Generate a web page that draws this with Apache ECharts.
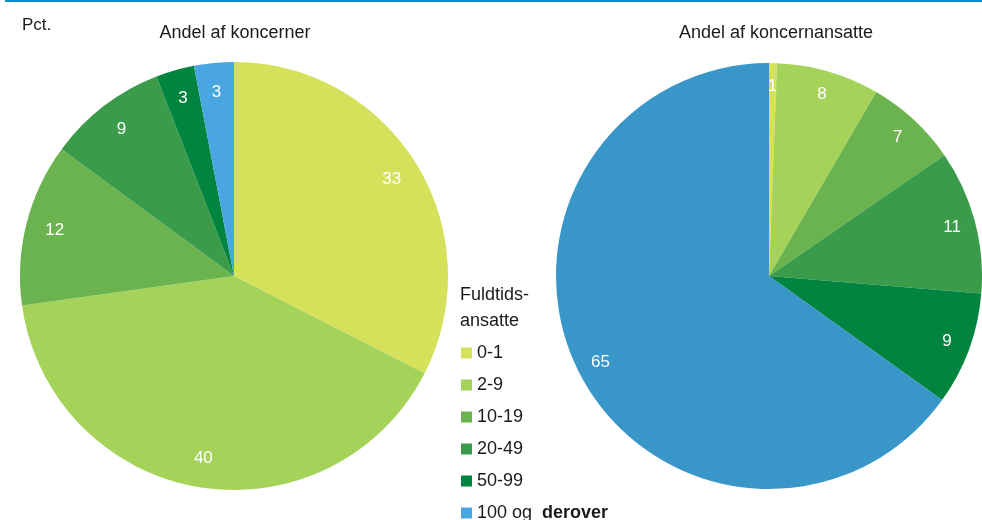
<!DOCTYPE html>
<html>
<head>
<meta charset="utf-8">
<script src="https://cdn.jsdelivr.net/npm/echarts@6/dist/echarts.min.js"></script>
<style>
  html, body { margin: 0; padding: 0; background: #fff; }
  #chart { width: 982px; height: 520px; }
</style>
</head>
<body>
<div id="chart"></div>
<script>
// employee size groups (legend)
const groups = ["0-1", "2-9", "10-19", "20-49", "50-99", "100 og derover"];
const groupColors = ["#d5e15b", "#a5d35a", "#6ab34e", "#3a9b4a", "#00843f", "#4aa6e0"];
// share of groups, pct.
const shareGroups = [32.5, 40.3, 12.3, 9.0, 2.9, 3.0];
// share of group employees, pct.
const shareEmployees = [0.6, 7.8, 7.0, 10.9, 8.6, 65.1];
const rightBlue = "#3996c9";

const FONT = "'Liberation Sans Narrow', 'Arial Narrow', 'Liberation Sans', sans-serif";

const chart = echarts.init(document.getElementById("chart"));

function pieData(values, blue) {
  return groups.map((g, i) => ({
    name: g,
    value: values[i],
    itemStyle: { color: (i === 5 && blue) ? blue : groupColors[i] }
  }));
}

function basePie(center, radius, values, blue) {
  return {
    type: "pie",
    center: center,
    radius: [0, radius],
    startAngle: 90,
    clockwise: true,
    silent: true,
    animation: false,
    label: { show: false },
    labelLine: { show: false },
    data: pieData(values, blue)
  };
}

// transparent ring used only to place labels near the rim
function labelRing(center, r0, r1, values) {
  return {
    type: "pie",
    center: center,
    radius: [r0, r1],
    startAngle: 90,
    silent: true,
    animation: false,
    itemStyle: { color: "rgba(0,0,0,0)" },
    emphasis: { disabled: true },
    label: {
      show: true,
      position: "inside",
      color: "#fff",
      fontFamily: FONT,
      fontSize: 17,
      formatter: p => Math.round(p.value)
    },
    labelLine: { show: false },
    data: groups.map((g, i) => ({ name: g, value: values[i] }))
  };
}

chart.setOption({
  color: groupColors,
  graphic: [
    { type: "rect", shape: { x: 5, y: 0, width: 977, height: 2 }, style: { fill: "#0a8fd0" } },
    { type: "text", left: 22, top: 17, style: { text: "Pct.", font: "17px " + FONT, fill: "#1a1a1a" } },
    { type: "text", left: 460, top: 282, style: { text: "Fuldtids-\nansatte", font: "18px " + FONT, fill: "#1a1a1a", lineHeight: 26 } }
  ],
  title: [
    { text: "Andel af koncerner", left: 230, top: 19, textAlign: "center",
      textStyle: { fontFamily: FONT, fontSize: 18, fontWeight: "normal", color: "#1a1a1a" } },
    { text: "Andel af koncernansatte", left: 771, top: 19, textAlign: "center",
      textStyle: { fontFamily: FONT, fontSize: 18, fontWeight: "normal", color: "#1a1a1a" } }
  ],
  legend: {
    orient: "vertical",
    left: 461,
    top: 343,
    height: 200,
    padding: 0,
    itemWidth: 11,
    itemHeight: 11,
    itemGap: 12,
    icon: "rect",
    selectedMode: false,
    data: groups,
    textStyle: {
      fontFamily: FONT,
      fontSize: 18,
      color: "#1a1a1a",
      lineHeight: 20,
      padding: [0, 0, 0, 0],
      rich: { b: { fontFamily: FONT, fontSize: 18, fontWeight: "bold", color: "#1a1a1a" } }
    },
    formatter: n => n === "100 og derover" ? "100 og  {b|derover}" : n
  },
  series: [
    basePie([234, 276], 214, shareGroups, null),
    labelRing([234, 276], 150, 214, shareGroups),
    basePie([769, 276], 213, shareEmployees, rightBlue),
    labelRing([769, 276], 160, 213, shareEmployees)
  ]
});
</script>
</body>
</html>
